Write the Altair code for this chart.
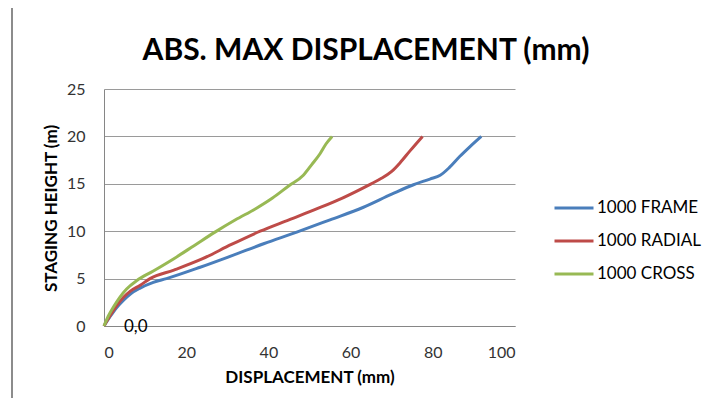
import altair as alt
import pandas as pd

series = ["1000 FRAME", "1000 RADIAL", "1000 CROSS"]
colors = ["#4A7EBB", "#BE4B48", "#98B954"]

frame_x = [0, 1.5, 3, 4.7, 6.5, 8.8, 12, 15.2, 23.4, 31, 39, 46.9, 55, 63, 70, 75.3, 79.3, 81.8, 84, 86.6, 89, 91.8]
frame_y = [0, 1.0, 1.9, 2.7, 3.4, 4.0, 4.6, 5.0, 6.2, 7.4, 8.7, 9.9, 11.2, 12.5, 13.9, 14.9, 15.5, 15.9, 16.7, 17.9, 18.9, 20.0]

radial_x = [0, 1.5, 3, 4.7, 6.5, 8.8, 11.2, 17, 24, 31, 38, 45, 52, 58, 65, 67.2, 70, 72, 74.5, 77.5]
radial_y = [0, 1.1, 2.1, 3.0, 3.7, 4.3, 5.0, 5.9, 7.1, 8.6, 10.0, 11.2, 12.4, 13.5, 15.0, 15.5, 16.3, 17.2, 18.5, 20.0]

cross_x = [0, 1, 2.3, 3.8, 5.5, 8, 12, 17, 22, 27, 32, 37, 41, 45, 48.5, 50.5, 52.6, 54, 55.5]
cross_y = [0, 1.0, 2.0, 3.0, 3.9, 4.8, 5.8, 7.1, 8.5, 9.9, 11.2, 12.4, 13.5, 14.8, 15.9, 17.0, 18.2, 19.2, 20.0]

x_ticks = [0, 20, 40, 60, 80, 100]
y_ticks = [0, 5, 10, 15, 20, 25]

title_text = ["ABS. MAX DISPLACEMENT (mm)"]
annot_text = ["0,0"]
annot_x = [0]
annot_y = [0]

rows = []
for name, xs, ys in zip(series, [frame_x, radial_x, cross_x], [frame_y, radial_y, cross_y]):
    for i, (xv, yv) in enumerate(zip(xs, ys)):
        rows.append({"series": name, "x": xv, "y": yv, "order": i})
df = pd.DataFrame(rows)

annot = pd.DataFrame({"x": annot_x, "y": annot_y, "text": annot_text})
title_df = pd.DataFrame({"text": title_text})

FONT = "Lato"
W, H = 411, 237

xscale = alt.Scale(domain=[0, 100], nice=False, zero=True)
yscale = alt.Scale(domain=[0, 25], nice=False, zero=True)

lines = alt.Chart(df).mark_line(strokeWidth=3, interpolate="monotone").encode(
    x=alt.X("x:Q", scale=xscale, axis=alt.Axis(
        values=x_ticks, title="DISPLACEMENT (mm)", grid=False, ticks=False,
        labelPadding=18, labelFontSize=16, labelFont=FONT, labelColor="#333333",
        domainColor="#868686", domainWidth=1,
        titleFont=FONT, titleFontSize=17, titleFontWeight="bold", titleColor="#000000",
        titleY=51, titleBaseline="middle")),
    y=alt.Y("y:Q", scale=yscale, axis=alt.Axis(
        values=y_ticks, title="STAGING HEIGHT (m)", grid=True, gridColor="#9a9a9a", gridWidth=1,
        ticks=False, labelPadding=19, labelFontSize=16, labelFont=FONT, labelColor="#333333",
        domainColor="#868686", domainWidth=1,
        titleFont=FONT, titleFontSize=17, titleFontWeight="bold", titleColor="#000000",
        titleX=-53, titleY=119, titleAngle=270, titleBaseline="middle", titleAlign="center")),
    color=alt.Color("series:N", scale=alt.Scale(domain=series, range=colors), legend=alt.Legend(
        title=None, orient="none", legendX=449, legendY=98, padding=0,
        symbolType="stroke", symbolSize=1521, symbolStrokeWidth=3,
        labelFont=FONT, labelFontSize=17, labelColor="#000000", labelOffset=2,
        rowPadding=4)),
    order="order:Q",
)

text = alt.Chart(annot).mark_text(align="left", baseline="middle", dx=20, dy=1,
                                  font=FONT, fontSize=17, color="#000000").encode(
    x=alt.X("x:Q", scale=xscale), y=alt.Y("y:Q", scale=yscale), text="text:N")

title = alt.Chart(title_df).mark_text(align="center", baseline="alphabetic", font=FONT, fontSize=30,
                                      fontWeight="bold", color="#000000").encode(
    x=alt.value(262), y=alt.value(-29), text="text:N")

border = alt.Chart(annot).mark_rule(color="#8c8c8c", strokeWidth=2).encode(
    x=alt.value(-92), y=alt.value(-89), y2=alt.value(317))

chart = alt.layer(border, lines, text, title).properties(
    width=W, height=H,
    autosize=alt.AutoSizeParams(type="none"),
    padding={"left": 96, "top": 81, "right": 188, "bottom": 72},
).configure_view(stroke=None)

chart.save("out.html", embed_options={"renderer": "svg", "actions": False})
